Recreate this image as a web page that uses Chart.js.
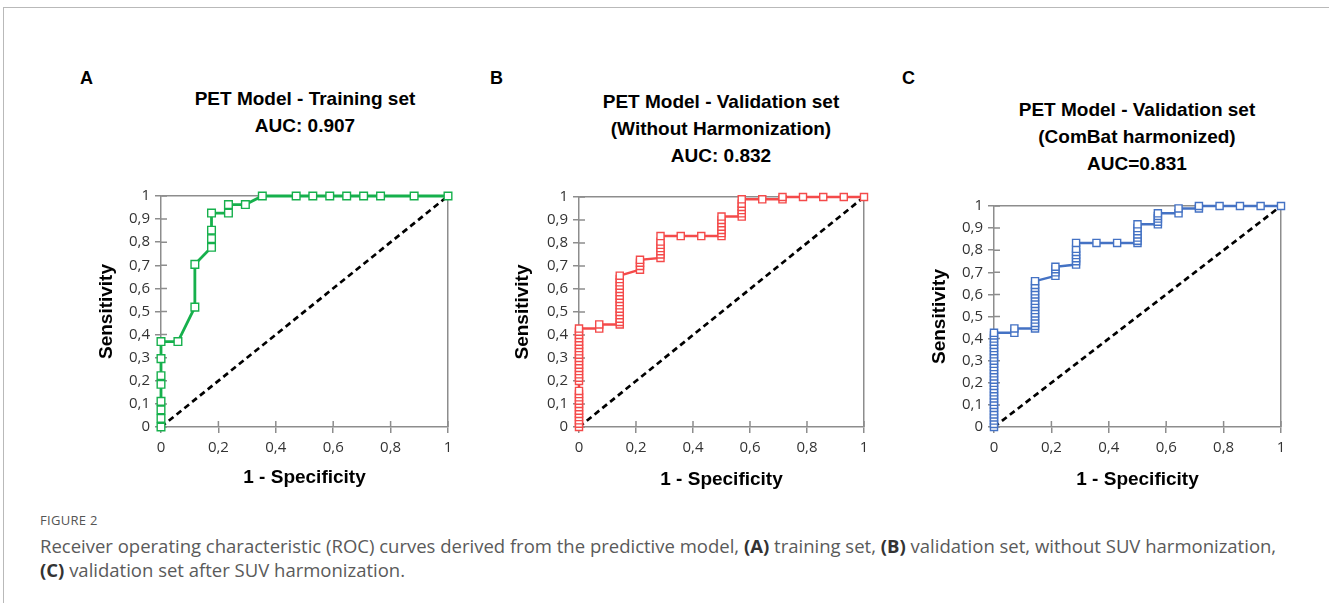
<!DOCTYPE html>
<html>
<head>
<meta charset="utf-8">
<script src="https://cdn.jsdelivr.net/npm/chart.js@4.4.1/dist/chart.umd.min.js"></script>
<style>
  html, body { margin:0; padding:0; background:#fff; }
  body { width:1329px; height:603px; position:relative; overflow:hidden; font-family:"Liberation Sans", Arial, sans-serif; }
  .frame { position:absolute; left:3px; top:7px; width:1330px; height:600px; border-top:1.5px solid #b9b9b9; border-left:1.5px solid #b9b9b9; }
  .letter { position:absolute; font-weight:bold; font-size:18px; color:#000; line-height:20px; }
  .title { position:absolute; font-weight:bold; font-size:19px; color:#000; line-height:27px; text-align:center; width:360px; white-space:nowrap; }
  canvas { position:absolute; }
  .figlabel { position:absolute; left:40px; top:511px; font-family:"Open Sans", sans-serif; font-size:13px; color:#555; letter-spacing:0.3px; }
  .caption { position:absolute; left:40px; top:534px; font-family:"Open Sans", sans-serif; font-size:18.5px; color:#5a5a5a; line-height:24px; white-space:nowrap; }
  .caption b { color:#333; }
</style>
</head>
<body>
<div class="frame"></div>

<div class="letter" style="left:80px; top:68px;">A</div>
<div class="letter" style="left:490px; top:68px;">B</div>
<div class="letter" style="left:902px; top:68px;">C</div>

<div class="title" id="titleA" style="left:125px; top:85px;"></div>
<div class="title" id="titleB" style="left:541px; top:88px;"></div>
<div class="title" id="titleC" style="left:957px; top:96px;"></div>

<canvas id="chartA" width="380" height="320" style="left:90px; top:180px;"></canvas>
<canvas id="chartB" width="380" height="320" style="left:509px; top:180px;"></canvas>
<canvas id="chartC" width="380" height="320" style="left:924px; top:180px;"></canvas>

<div class="figlabel">FIGURE 2</div>
<div class="caption">Receiver operating characteristic (ROC) curves derived from the predictive model, <b>(A)</b> training set, <b>(B)</b> validation set, without SUV harmonization,<br><b>(C)</b> validation set after SUV harmonization.</div>

<script>
// ---------- DATA ----------
const titlesA = ["PET Model - Training set", "AUC: 0.907"];
const titlesB = ["PET Model - Validation set", "(Without Harmonization)", "AUC: 0.832"];
const titlesC = ["PET Model - Validation set", "(ComBat harmonized)", "AUC=0.831"];

const xTicks = [0, 0.2, 0.4, 0.6, 0.8, 1];
const yTicks = [0, 0.1, 0.2, 0.3, 0.4, 0.5, 0.6, 0.7, 0.8, 0.9, 1];
const xAxisTitle = "1 - Specificity";
const yAxisTitle = "Sensitivity";

// Panel A : training set (1 - specificity, sensitivity)
const trainFpr = [0, 0, 0, 0, 0, 0, 0, 0, 0.059, 0.118, 0.118, 0.176, 0.176, 0.176, 0.176, 0.235, 0.235, 0.294, 0.353, 0.471, 0.529, 0.588, 0.647, 0.706, 0.765, 0.882, 1];
const trainTpr = [0, 0.037, 0.074, 0.111, 0.185, 0.222, 0.296, 0.370, 0.370, 0.519, 0.704, 0.778, 0.815, 0.852, 0.926, 0.926, 0.963, 0.963, 1, 1, 1, 1, 1, 1, 1, 1, 1];

// Panel B : validation set, without harmonization
const valFpr = [0, 0, 0, 0, 0, 0, 0, 0, 0, 0, 0, 0, 0, 0, 0, 0, 0, 0, 0, 0, 0, 0, 0, 0, 0, 0, 0, 0, 0,
  0.071, 0.071, 0.143, 0.143, 0.143, 0.143, 0.143, 0.143, 0.143, 0.143, 0.143, 0.143, 0.143, 0.143, 0.143, 0.143, 0.143, 0.143,
  0.214, 0.214, 0.214, 0.214, 0.286, 0.286, 0.286, 0.286, 0.286, 0.286, 0.286, 0.357, 0.429,
  0.5, 0.5, 0.5, 0.5, 0.5, 0.5, 0.5, 0.571, 0.571, 0.571, 0.571, 0.571, 0.571, 0.643, 0.714, 0.714, 0.786, 0.857, 0.929, 1];
const valTpr = [0, 0.014, 0.029, 0.043, 0.057, 0.071, 0.086, 0.1, 0.114, 0.129, 0.143, 0.157, 0.2, 0.214, 0.229, 0.243, 0.257, 0.271, 0.286, 0.3, 0.314, 0.329, 0.343, 0.357, 0.371, 0.386, 0.4, 0.414, 0.428,
  0.428, 0.446, 0.446, 0.457, 0.471, 0.486, 0.5, 0.514, 0.529, 0.543, 0.557, 0.571, 0.586, 0.6, 0.614, 0.629, 0.643, 0.658,
  0.684, 0.7, 0.714, 0.727, 0.735, 0.75, 0.764, 0.778, 0.792, 0.806, 0.83, 0.83, 0.83,
  0.83, 0.843, 0.857, 0.871, 0.886, 0.9, 0.915, 0.915, 0.929, 0.943, 0.957, 0.971, 0.99, 0.99, 0.99, 1, 1, 1, 1, 1];

// Panel C : validation set, ComBat harmonized
const combatFpr = [0, 0, 0, 0, 0, 0, 0, 0, 0, 0, 0, 0, 0, 0, 0, 0, 0, 0, 0, 0, 0, 0, 0, 0, 0, 0, 0, 0, 0, 0, 0,
  0.071, 0.071, 0.143, 0.143, 0.143, 0.143, 0.143, 0.143, 0.143, 0.143, 0.143, 0.143, 0.143, 0.143, 0.143, 0.143, 0.143, 0.143,
  0.214, 0.214, 0.214, 0.214, 0.286, 0.286, 0.286, 0.286, 0.286, 0.286, 0.286, 0.357, 0.429,
  0.5, 0.5, 0.5, 0.5, 0.5, 0.5, 0.5, 0.571, 0.571, 0.571, 0.571, 0.571, 0.643, 0.643, 0.714, 0.714, 0.786, 0.857, 0.929, 1];
const combatTpr = [0, 0.014, 0.029, 0.043, 0.057, 0.071, 0.086, 0.1, 0.114, 0.129, 0.143, 0.157, 0.171, 0.186, 0.2, 0.214, 0.229, 0.243, 0.257, 0.271, 0.286, 0.3, 0.314, 0.329, 0.343, 0.357, 0.371, 0.386, 0.4, 0.414, 0.426,
  0.426, 0.446, 0.446, 0.457, 0.471, 0.486, 0.5, 0.514, 0.529, 0.543, 0.557, 0.571, 0.586, 0.6, 0.614, 0.629, 0.643, 0.66,
  0.684, 0.7, 0.714, 0.725, 0.735, 0.75, 0.764, 0.778, 0.792, 0.806, 0.833, 0.833, 0.833,
  0.833, 0.843, 0.857, 0.871, 0.886, 0.9, 0.917, 0.917, 0.929, 0.943, 0.955, 0.967, 0.967, 0.989, 0.989, 1, 1, 1, 1, 1];

const chanceFpr = [0, 1];
const chanceTpr = [0, 1];

// ---------- RENDERING ----------
function setTitle(id, lines) {
  const el = document.getElementById(id);
  el.innerHTML = lines.map(l => l.replace(/&/g, '&amp;').replace(/</g, '&lt;')).join('<br>');
}
setTitle('titleA', titlesA);
setTitle('titleB', titlesB);
setTitle('titleC', titlesC);

const toPoints = (xs, ys) => xs.map((x, i) => ({ x: x, y: ys[i] }));
const fmt = v => String(Math.round(v * 10) / 10).replace('.', ',');
const AXIS_GREY = '#8d8d8d';

const innerTicks = {
  id: 'innerTicks',
  beforeDatasetsDraw(chart) {
    const { ctx, chartArea } = chart;
    const xs = chart.scales.x, ys = chart.scales.y;
    ctx.save();
    ctx.strokeStyle = AXIS_GREY;
    ctx.lineWidth = 1.5;
    ctx.beginPath();
    xs.ticks.forEach(t => {
      const px = xs.getPixelForValue(t.value);
      ctx.moveTo(px, chartArea.bottom);
      ctx.lineTo(px, chartArea.bottom - 6);
    });
    ys.ticks.forEach(t => {
      const py = ys.getPixelForValue(t.value);
      ctx.moveTo(chartArea.left, py);
      ctx.lineTo(chartArea.left + 6, py);
    });
    ctx.stroke();
    ctx.restore();
  }
};

function makeChart(canvasId, fpr, tpr, color, cfg) {
  const ctx = document.getElementById(canvasId);
  return new Chart(ctx, {
    type: 'scatter',
    data: {
      datasets: [
        {
          data: toPoints(chanceFpr, chanceTpr),
          showLine: true,
          borderColor: '#000',
          borderWidth: 2.7,
          borderDash: [6, 4],
          pointRadius: 0,
          clip: false,
          order: 2
        },
        {
          data: toPoints(fpr, tpr),
          showLine: true,
          borderColor: color,
          borderWidth: cfg.lineWidth,
          pointStyle: 'rect',
          pointRadius: cfg.radius,
          pointBorderWidth: 1.4,
          pointBackgroundColor: '#fff',
          pointBorderColor: color,
          clip: false,
          order: 1
        }
      ]
    },
    options: {
      responsive: false,
      animation: false,
      devicePixelRatio: 1,
      layout: { padding: { left: 0, top: cfg.padTop, right: cfg.padRight, bottom: 0 } },
      plugins: { legend: { display: false }, tooltip: { enabled: false }, title: { display: false } },
      scales: {
        x: {
          type: 'linear', min: 0, max: 1,
          afterBuildTicks: s => { s.ticks = xTicks.map(v => ({ value: v })); },
          afterFit: s => { s.height = cfg.xHeight; },
          ticks: { callback: v => fmt(v), font: { family: 'Open Sans', size: 15 }, color: '#333', padding: 6, maxRotation: 0 },
          grid: {
            color: c => (c.tick && c.tick.value === 1 ? AXIS_GREY : 'rgba(0,0,0,0)'),
            lineWidth: 1.5, tickLength: 6, tickColor: AXIS_GREY, tickWidth: 1.5
          },
          border: { color: AXIS_GREY, width: 1.5 },
          title: { display: true, text: xAxisTitle, font: { family: 'Liberation Sans', size: 19, weight: 'bold' }, color: '#000', padding: { top: 0, bottom: cfg.xTitlePad } }
        },
        y: {
          type: 'linear', min: 0, max: 1,
          afterBuildTicks: s => { s.ticks = yTicks.map(v => ({ value: v })); },
          afterFit: s => { s.width = cfg.yWidth; },
          ticks: { callback: v => fmt(v), font: { family: 'Open Sans', size: 15 }, color: '#333', padding: 5 },
          grid: {
            color: c => (c.tick && c.tick.value === 1 ? AXIS_GREY : 'rgba(0,0,0,0)'),
            lineWidth: 1.5, tickLength: 6, tickColor: AXIS_GREY, tickWidth: 1.5
          },
          border: { color: AXIS_GREY, width: 1.5 },
          title: { display: true, text: yAxisTitle, font: { family: 'Liberation Sans', size: 19, weight: 'bold' }, color: '#000', padding: { top: cfg.yTitlePad, bottom: 0 } }
        }
      }
    },
    plugins: [innerTicks]
  });
}

makeChart('chartA', trainFpr, trainTpr, '#16b04c', { padTop: 16, padRight: 22, xHeight: 73, yWidth: 71, xTitlePad: 10.6, yTitlePad: 5.6, lineWidth: 2.8, radius: 5.4 });
makeChart('chartB', valFpr, valTpr, '#f44a4a', { padTop: 17, padRight: 25, xHeight: 73, yWidth: 70, xTitlePad: 8.6, yTitlePad: 2.6, lineWidth: 2.5, radius: 5 });
makeChart('chartC', combatFpr, combatTpr, '#4472c4', { padTop: 26, padRight: 23, xHeight: 73, yWidth: 70, xTitlePad: 8.6, yTitlePad: 4.6, lineWidth: 2.5, radius: 5 });
</script>
</body>
</html>
